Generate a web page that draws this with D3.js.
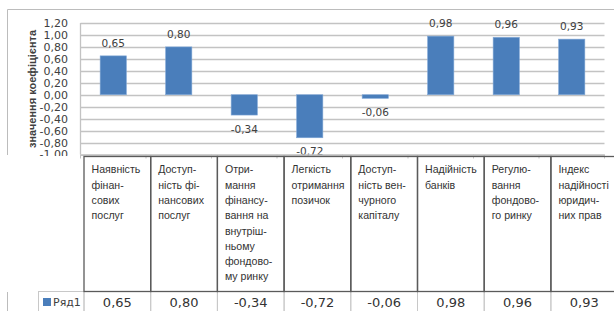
<!DOCTYPE html>
<html>
<head>
<meta charset="utf-8">
<script src="https://cdn.jsdelivr.net/npm/d3@7"></script>
<style>
  body { margin: 0; background: #fff; }
  svg { display: block; }
</style>
</head>
<body>
<div id="chart"></div>
<script>
// chart data
var categories = [
  "Наявність фінансових послуг",
  "Доступність фінансових послуг",
  "Отримання фінансування на внутрішньому фондовому ринку",
  "Легкість отримання позичок",
  "Доступність венчурного капіталу",
  "Надійність банків",
  "Регулювання фондового ринку",
  "Індекс надійності юридичних прав"
];
// the category labels as they are wrapped in the data table
var categoryLines = [
  ["Наявність", "фінан-", "сових", "послуг"],
  ["Доступ-", "ність фі-", "нансових", "послуг"],
  ["Отри-", "мання", "фінансу-", "вання на", "внутріш-", "ньому", "фондово-", "му ринку"],
  ["Легкість", "отримання", "позичок"],
  ["Доступ-", "ність вен-", "чурного", "капіталу"],
  ["Надійність", "банків"],
  ["Регулю-", "вання", "фондово-", "го ринку"],
  ["Індекс", "надійності", "юридич-", "них прав"]
];
var values = [0.65, 0.80, -0.34, -0.72, -0.06, 0.98, 0.96, 0.93];
var yTicks = [-1.0, -0.8, -0.6, -0.4, -0.2, 0.0, 0.2, 0.4, 0.6, 0.8, 1.0, 1.2];
var seriesName = "Ряд1";
var yTitle = "значення коефіцієнта";

var W = 614, H = 311;
var barColor = "#4a7ebb";
var gridColor = "#c3c3c3";
var textColor = "#404040";

var uk = d3.formatLocale({ decimal: ",", thousands: " ", grouping: [3], currency: ["", " ₴"], minus: "-" });
var fmt = uk.format(".2f");

var svg = d3.select("#chart").append("svg")
  .attr("width", W)
  .attr("height", H);

// plot area
var plot = { left: 80.5, right: 604.5, top: 23, bottom: 154.5 };

var x = d3.scaleBand()
  .domain(categories)
  .range([plot.left, plot.right])
  .paddingInner(0.6)
  .paddingOuter(0.3);

var y = d3.scaleLinear()
  .domain([-1, 1.2])
  .range([plot.bottom, plot.top]);

// outer chart border (top + left, the rest is cut off)
svg.append("path")
  .attr("d", "M7.5,155 V9.5 H614")
  .attr("fill", "none")
  .attr("stroke", "#bcbcbc");
svg.append("line")
  .attr("x1", 7.5).attr("x2", 7.5)
  .attr("y1", 292).attr("y2", H)
  .attr("stroke", "#bcbcbc");

// gridlines
svg.append("g")
  .selectAll("line")
  .data(yTicks)
  .enter()
  .append("line")
  .attr("x1", plot.left)
  .attr("x2", plot.right)
  .attr("y1", function (d) { return Math.round(y(d)) + 0.5; })
  .attr("y2", function (d) { return Math.round(y(d)) + 0.5; })
  .attr("stroke", gridColor)
  .attr("stroke-width", 1.3);

// y axis line
svg.append("line")
  .attr("x1", plot.left).attr("x2", plot.left)
  .attr("y1", plot.top).attr("y2", plot.bottom)
  .attr("stroke", gridColor)
  .attr("stroke-width", 1.3);

// y tick labels
svg.append("g")
  .selectAll("text")
  .data(yTicks)
  .enter()
  .append("text")
  .attr("x", 68)
  .attr("y", function (d) { return y(d); })
  .attr("dy", "0.36em")
  .attr("text-anchor", "end")
  .attr("font-family", "DejaVu Sans")
  .attr("font-size", 11)
  .attr("fill", textColor)
  .text(function (d) { return fmt(d); });

// y axis title
svg.append("text")
  .attr("transform", "translate(36," + 89 + ") rotate(-90)")
  .attr("text-anchor", "middle")
  .attr("font-family", "Liberation Sans")
  .attr("font-weight", "bold")
  .attr("font-size", 11)
  .attr("fill", textColor)
  .text(yTitle);

// bars
svg.append("g")
  .selectAll("rect")
  .data(values)
  .enter()
  .append("rect")
  .attr("x", function (d, i) { return x(categories[i]); })
  .attr("width", x.bandwidth())
  .attr("y", function (d) { return y(Math.max(0, d)); })
  .attr("height", function (d) { return Math.abs(y(d) - y(0)); })
  .attr("fill", barColor)
  .attr("stroke", "#7fa6d6")
  .attr("stroke-width", 0.6);

// data labels
svg.append("g")
  .selectAll("text")
  .data(values)
  .enter()
  .append("text")
  .attr("x", function (d, i) { return x(categories[i]) + x.bandwidth() / 2; })
  .attr("y", function (d) { return d >= 0 ? y(d) - 9 : y(d) + 17.5; })
  .attr("text-anchor", "middle")
  .attr("font-family", "DejaVu Sans")
  .attr("font-size", 10.5)
  .attr("fill", textColor)
  .text(function (d) { return fmt(d); });

// data table below the plot
var tx = d3.scaleBand()
  .domain(categories)
  .range([84, 84 + 8 * 66.7]);

var table = svg.append("g");
var headTop = 156.5, headBottom = 291.5, rowBottom = 330;

// white backdrop hides anything that runs into the table
table.append("rect")
  .attr("x", 8).attr("y", 156)
  .attr("width", W - 8).attr("height", H - 156)
  .attr("fill", "#fff");

// x axis line and category tick marks
table.append("line")
  .attr("x1", plot.left).attr("x2", plot.right)
  .attr("y1", plot.bottom + 0.5).attr("y2", plot.bottom + 0.5)
  .attr("stroke", gridColor)
  .attr("stroke-width", 1.3);
table.selectAll("line.tick")
  .data(categories.concat([null]))
  .enter()
  .append("line")
  .attr("class", "tick")
  .attr("x1", function (d) { return d === null ? plot.right : x(d) - x.step() * x.paddingInner() / 2; })
  .attr("x2", function (d) { return d === null ? plot.right : x(d) - x.step() * x.paddingInner() / 2; })
  .attr("y1", plot.bottom)
  .attr("y2", plot.bottom + 4)
  .attr("stroke", gridColor);

// values row (light borders)
table.selectAll("rect.val")
  .data(categories)
  .enter()
  .append("rect")
  .attr("class", "val")
  .attr("x", function (d) { return tx(d); })
  .attr("y", headBottom)
  .attr("width", tx.bandwidth())
  .attr("height", rowBottom - headBottom)
  .attr("fill", "none")
  .attr("stroke", "#c8c8c8");

// legend cell
table.append("rect")
  .attr("x", 38.5).attr("y", headBottom)
  .attr("width", 84 - 38.5).attr("height", rowBottom - headBottom)
  .attr("fill", "none")
  .attr("stroke", "#c8c8c8");
table.append("rect")
  .attr("x", 43).attr("y", 298)
  .attr("width", 8).attr("height", 8)
  .attr("fill", barColor);
table.append("text")
  .attr("x", 53).attr("y", 306)
  .attr("font-family", "DejaVu Sans")
  .attr("font-size", 11)
  .attr("fill", textColor)
  .text(seriesName);

// header cells (dark borders)
table.selectAll("rect.head")
  .data(categories)
  .enter()
  .append("rect")
  .attr("class", "head")
  .attr("x", function (d) { return tx(d); })
  .attr("y", headTop)
  .attr("width", tx.bandwidth())
  .attr("height", headBottom - headTop)
  .attr("fill", "none")
  .attr("stroke", "#5a5a5a")
  .attr("stroke-width", 1.3);

// header text
var heads = table.selectAll("text.head")
  .data(categories)
  .enter()
  .append("text")
  .attr("class", "head")
  .attr("font-family", "Liberation Sans")
  .attr("font-size", 10.6)
  .attr("fill", "#333");
heads.each(function (d, i) {
  var el = d3.select(this);
  categoryLines[i].forEach(function (line, k) {
    el.append("tspan")
      .attr("x", tx(d) + 7.5)
      .attr("y", 173.3 + k * 15.3)
      .text(line);
  });
});

// value text
table.selectAll("text.val")
  .data(values)
  .enter()
  .append("text")
  .attr("class", "val")
  .attr("x", function (d, i) { return tx(categories[i]) + tx.bandwidth() / 2; })
  .attr("y", 307)
  .attr("text-anchor", "middle")
  .attr("font-family", "DejaVu Sans")
  .attr("font-size", 13)
  .attr("fill", "#333")
  .text(function (d) { return fmt(d); });
</script>
</body>
</html>
